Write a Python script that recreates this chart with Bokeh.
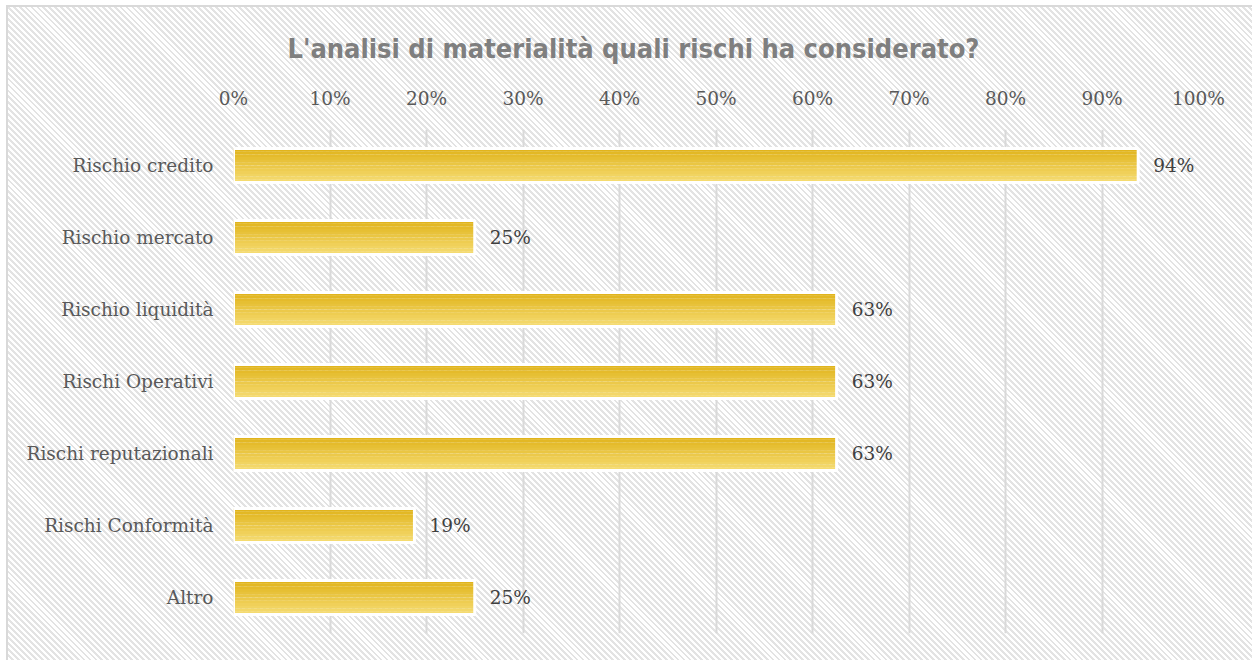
from bokeh.plotting import figure
from bokeh.models import Range1d, NumeralTickFormatter, FixedTicker, ColumnDataSource, Title
from bokeh.transform import dodge
from bokeh.core.properties import value
from bokeh.embed import file_html
from bokeh.resources import INLINE

categories = ["Rischio credito", "Rischio mercato", "Rischio liquidità", "Rischi Operativi",
              "Rischi reputazionali", "Rischi Conformità", "Altro"]
values = [0.9375, 0.25, 0.625, 0.625, 0.625, 0.1875, 0.25]
labels = ["94%", "25%", "63%", "63%", "63%", "19%", "25%"]
ticks = [i / 10 for i in range(11)]
title_text = "L'analisi di materialità quali rischi ha considerato?"

src = ColumnDataSource(dict(cat=categories, val=values, lab=labels))

p = figure(width=1252, height=660, y_range=list(reversed(categories)), x_range=Range1d(0, 1),
           x_axis_location="above", output_backend="svg", toolbar_location=None,
           min_border_left=233, min_border_right=54, min_border_top=129, min_border_bottom=27)
p.styles = {
    "background": "repeating-linear-gradient(45deg, #e3e3e3 0px, #e3e3e3 2px, #ffffff 2px, #ffffff 4.2px)",
    "box-shadow": "inset 6px 5px 0 0 #ffffff, inset 8px 7px 0 0 #d9d9d9",
}
p.background_fill_alpha = 0
p.border_fill_alpha = 0
p.outline_line_color = None

t = Title(text=title_text, align="left", offset=54, text_font="DejaVu Sans Condensed",
          text_font_size="27px", text_font_style="bold", text_color="#7f7f7f", standoff=41)
p.add_layout(t, "above")

# gradient bars drawn as thin horizontal strips
H = 0.47
n = 12
c0 = (0xE1, 0xB4, 0x1C)
c1 = (0xF5, 0xDB, 0x70)
for i in range(n):
    f = i / (n - 1)
    col = "#%02x%02x%02x" % tuple(int(round(a + (b - a) * f)) for a, b in zip(c0, c1))
    off = H / 2 - (i + 0.5) * H / n
    p.hbar(y=dodge("cat", off, range=p.y_range), right="val", left=0, height=H / n + 0.002,
           source=src, fill_color=col, line_color=None)
p.hbar(y="cat", right="val", left=0, height=H, source=src, fill_alpha=0,
       line_color="white", line_width=3)

p.text(x="val", y="cat", text="lab", source=src, x_offset=15, text_baseline="middle",
       text_font=value("DejaVu Serif"), text_font_size="18.5px", text_color="#404040")

p.xaxis.ticker = FixedTicker(ticks=ticks)
p.xaxis.formatter = NumeralTickFormatter(format="0%")
for ax in (p.xaxis[0], p.yaxis[0]):
    ax.axis_line_color = None
    ax.major_tick_line_color = None
    ax.minor_tick_line_color = None
    ax.major_label_text_font = "DejaVu Serif"
    ax.major_label_text_font_size = "18.5px"
    ax.major_label_text_color = "#595959"
p.xaxis.major_label_standoff = 15
p.yaxis.major_label_standoff = 14

p.xgrid.grid_line_color = "#d9d9d9"
p.xgrid.grid_line_width = 2
p.xgrid.ticker = FixedTicker(ticks=ticks)
p.ygrid.grid_line_color = None

open("out.html", "w").write(file_html(p, INLINE))
